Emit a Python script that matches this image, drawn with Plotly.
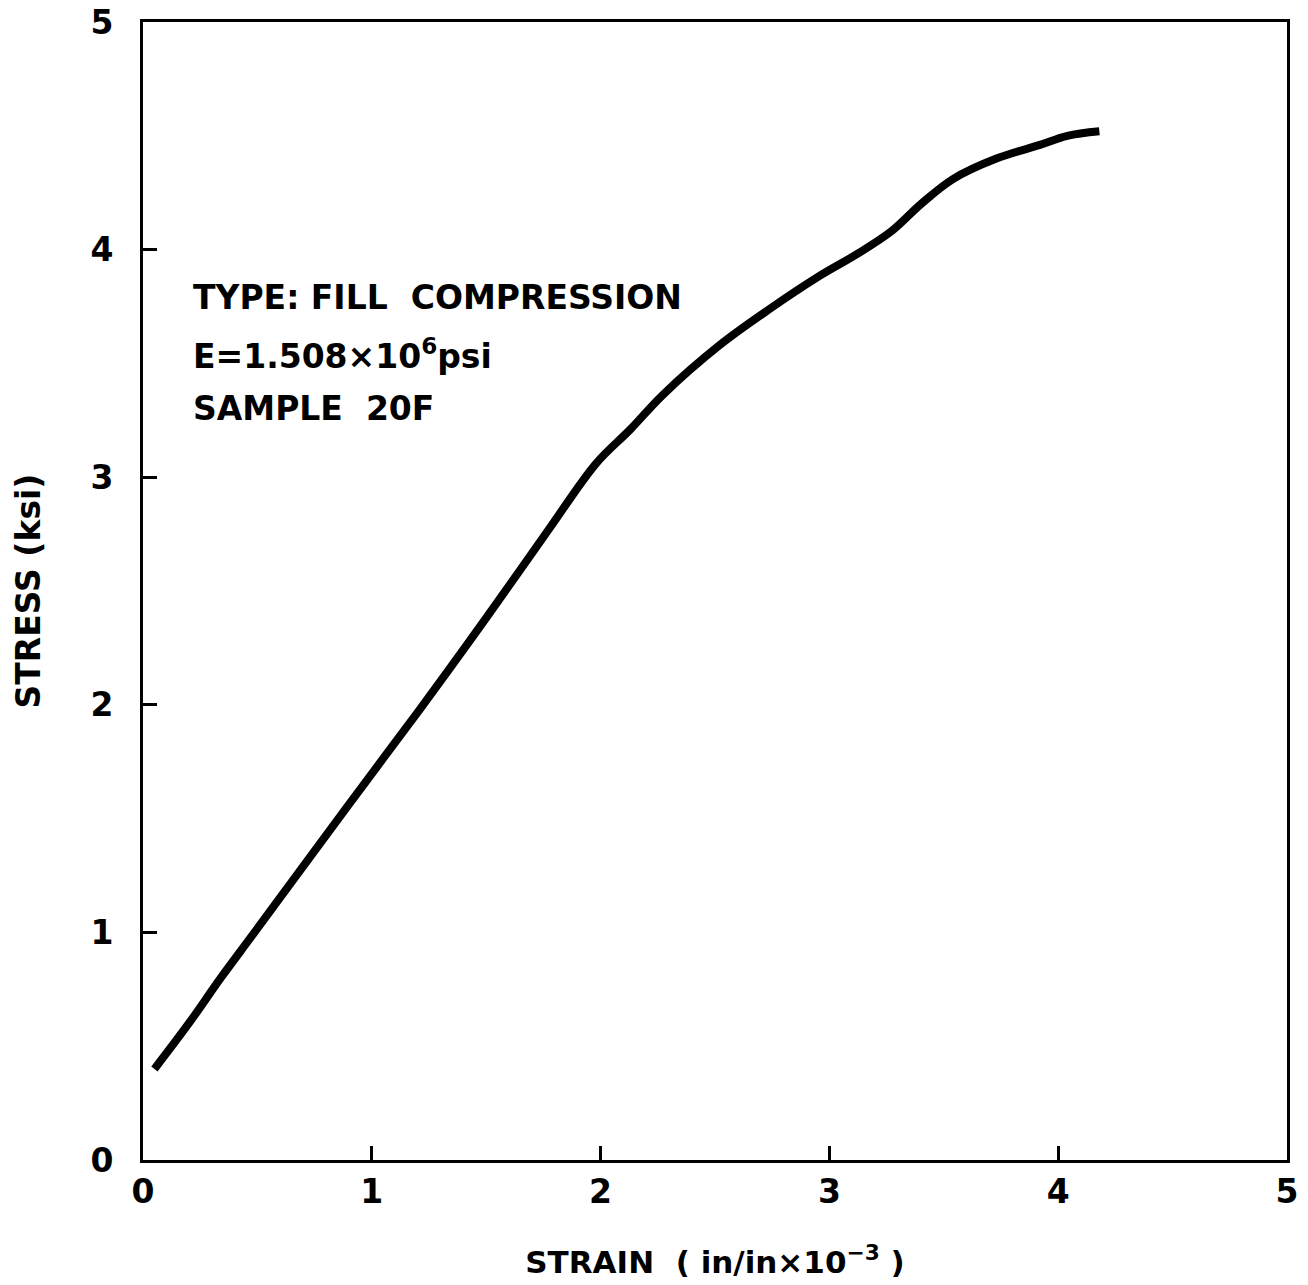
import plotly.graph_objects as go

# Stress-strain record, fill compression, sample 20F
strain = [0.05, 0.20, 0.34, 0.48, 0.70, 0.95, 1.21, 1.42, 1.64, 1.78, 1.98,
          2.13, 2.27, 2.52, 2.74, 2.95, 3.12, 3.27, 3.40, 3.54, 3.73, 3.92,
          4.04, 4.18]
stress = [0.40, 0.60, 0.80, 0.99, 1.29, 1.63, 1.98, 2.27, 2.58, 2.78, 3.06,
          3.21, 3.36, 3.58, 3.74, 3.88, 3.98, 4.08, 4.20, 4.31, 4.40, 4.46,
          4.50, 4.52]

tick_vals = [0, 1, 2, 3, 4, 5]
tick_text = ["0", "1", "2", "3", "4", "5"]

info_lines = [
    "TYPE: FILL  COMPRESSION",
    "E=1.508×10<sup>6</sup>psi",
    "SAMPLE  20F",
]
info_y = [3.79, 3.54, 3.30]

FONT = "DejaVu Sans"

fig = go.Figure()
fig.add_trace(go.Scatter(
    x=strain, y=stress, mode="lines",
    line=dict(color="black", width=8, shape="spline", smoothing=1.0),
    showlegend=False, hoverinfo="skip",
))

for text, y in zip(info_lines, info_y):
    fig.add_annotation(
        x=0.21, y=y, xref="x", yref="y", text=text, showarrow=False,
        xanchor="left", yanchor="middle",
        font=dict(family=FONT, size=33, color="black", weight="bold"),
    )

axis_common = dict(
    range=[0, 5], tickmode="array", tickvals=tick_vals, ticktext=tick_text,
    showline=True, linecolor="black", linewidth=3, mirror=True,
    ticks="inside", ticklen=14, tickwidth=3, tickcolor="black",
    showgrid=False, zeroline=False,
    tickfont=dict(family=FONT, size=33, color="black", weight="bold"),
)

fig.update_xaxes(
    **axis_common,
    title=dict(text="STRAIN  ( in/in×10<sup>−3</sup> )",
               font=dict(family=FONT, size=31, color="black", weight="bold"),
               standoff=42),
)
fig.update_yaxes(
    **axis_common,
    ticklabelstandoff=20,
    title=dict(text="STRESS (ksi)",
               font=dict(family=FONT, size=33, color="black", weight="bold"),
               standoff=40),
)

fig.update_layout(
    width=1308, height=1285,
    margin=dict(l=143, r=21, t=22, b=125, autoexpand=False),
    paper_bgcolor="white", plot_bgcolor="white",
)

fig.write_html("out.html")
